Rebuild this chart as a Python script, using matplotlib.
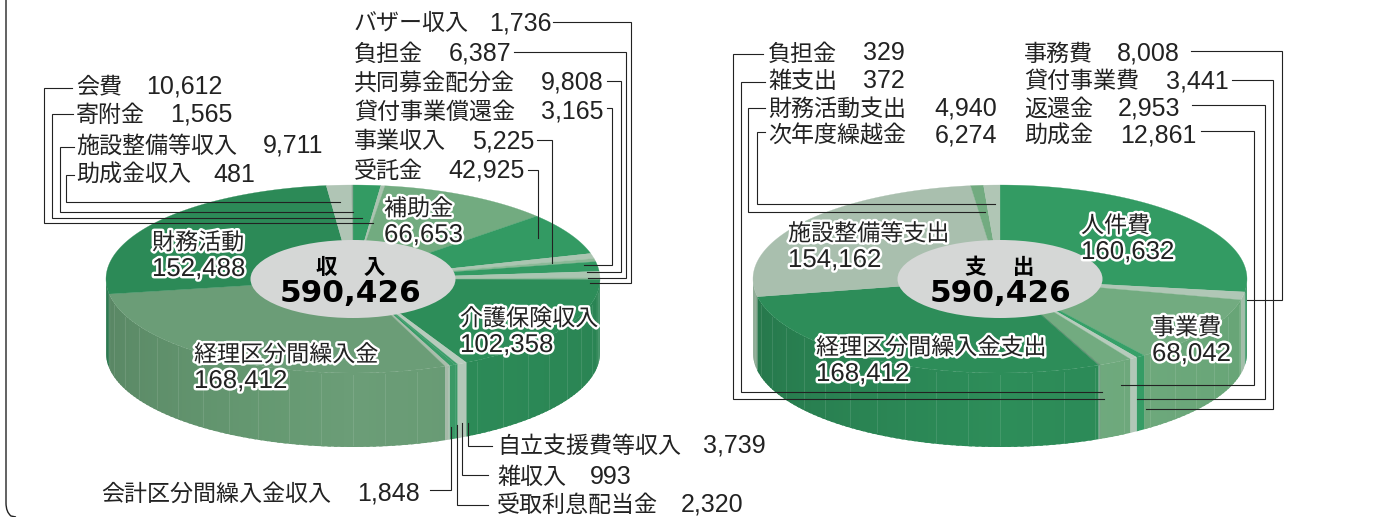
import colorsys

import matplotlib
matplotlib.use("Agg")
import matplotlib.colors as mcolors
import matplotlib.patheffects as pe
import matplotlib.pyplot as plt
from matplotlib.patches import Ellipse, PathPatch
from matplotlib.path import Path
import numpy as np

plt.rcParams["font.family"] = ["Noto Sans CJK JP", "DejaVu Sans"]

# income, clockwise from 12 o'clock
income_names = ["会費", "寄附金", "補助金", "受託金", "事業収入", "貸付事業償還金",
                "共同募金配分金", "負担金", "バザー収入", "介護保険収入",
                "自立支援費等収入", "雑収入", "受取利息配当金", "会計区分間繰入金収入",
                "経理区分間繰入金", "財務活動", "施設整備等収入", "助成金収入"]
income_values = [10612, 1565, 66653, 42925, 5225, 3165, 9808, 6387, 1736, 102358,
                 3739, 993, 2320, 1848, 168412, 152488, 9711, 481]
income_colors = ["#339b63", "#abc3b0", "#72ab80", "#339a63", "#abc5b1", "#8cb897",
                 "#339a63", "#abc5b1", "#8cb897", "#2d8d59",
                 "#b7cbbc", "#3a9c68", "#3a9c68", "#a9bdab",
                 "#6b9d77", "#2c8a57", "#b0c5b5", "#8aa895"]

# expenses, clockwise from 12 o'clock
spend_names = ["人件費", "事務費", "事業費", "貸付事業費", "返還金", "助成金",
               "雑支出", "負担金", "経理区分間繰入金支出", "施設整備等支出",
               "財務活動支出", "次年度繰越金"]
spend_values = [160632, 8008, 68042, 3441, 2953, 12861,
                372, 329, 168412, 154162, 4940, 6274]
spend_colors = ["#339b63", "#b0c7b6", "#72ab80", "#36a068", "#b7cbbc", "#72ab80",
                "#5f8f70", "#5f8f70", "#2d8d59", "#a9bfae", "#72ab80", "#b0c6b5"]

total = 590426

fig = plt.figure(figsize=(13.94, 5.17), dpi=100)
ax = fig.add_axes([0, 0, 1, 1])
ax.set_xlim(0, 1394)
ax.set_ylim(517, 0)
ax.axis("off")

CY, RX, RY, DEPTH = 279, 247, 94, 74


def shade(color, theta):
    # side wall gets darker towards the left, a bit towards the right
    if theta >= 180:
        f = 1 - 0.17 * (theta - 180) / 90
    else:
        f = 1 - 0.07 * (180 - theta) / 90
    r, g, b = mcolors.to_rgb(color)
    h, l, s = colorsys.rgb_to_hls(r, g, b)
    return colorsys.hls_to_rgb(h, l * f, s)


def rim(cx, theta):
    t = np.radians(theta)
    return cx + RX * np.sin(t), CY - RY * np.cos(t)


def draw_pie(cx, values, colors):
    edges = np.cumsum([0] + values) / sum(values) * 360
    # side wall first; strips overlap the next one so no seams show
    for c, a, b in zip(colors, edges[:-1], edges[1:]):
        lo, hi = max(a, 90), min(b, 270)
        if hi <= lo:
            continue
        cuts = np.append(np.arange(lo, hi, 1.5), hi)
        for t0, t1 in zip(cuts[:-1], cuts[1:]):
            th = np.linspace(t0, min(t1 + 0.8, hi), 5)
            x, y = rim(cx, th)
            ax.fill(np.r_[x, x[::-1]], np.r_[y, y[::-1] + DEPTH],
                    fc=shade(c, (t0 + t1) / 2), ec="none", zorder=1)
    # faint vertical ribs of the wall
    for th in np.arange(97.5, 270, 7.5):
        x, y = rim(cx, th)
        ax.plot([x, x], [y + 2, y + DEPTH - 2], color="white", alpha=0.11, lw=0.7, zorder=2)
    # top face
    for c, a, b in zip(colors, edges[:-1], edges[1:]):
        th = np.linspace(a, b, max(3, int(b - a) * 2))
        x, y = rim(cx, th)
        ax.fill(np.r_[cx, x], np.r_[CY, y], fc=c, ec=c, lw=0.2, zorder=3)
    ax.add_patch(Ellipse((cx, CY), 205, 78, fc="#d5d7d6", ec="none", zorder=4))


draw_pie(353, income_values, income_colors)
draw_pie(1000, spend_values, spend_colors)

leaders = [
    [(553, 22), (631, 22), (631, 283), (590, 283)],
    [(514, 52), (626, 52), (626, 278), (588, 278)],
    [(607, 81), (621, 81), (621, 272), (587, 272)],
    [(607, 108), (612, 108), (612, 265), (584, 265)],
    [(537, 140), (552, 140), (552, 263)],
    [(528, 170), (538, 170), (538, 238)],
    [(72, 88), (44, 88), (44, 223), (373, 223)],
    [(73, 114), (52, 114), (52, 218), (362, 218)],
    [(74, 147), (60, 147), (60, 212), (353, 212)],
    [(74, 175), (66, 175), (66, 202), (340, 202)],
    [(468, 423), (468, 446), (492, 446)],
    [(462, 423), (462, 475), (488, 475)],
    [(457, 425), (457, 505), (488, 505)],
    [(451, 427), (451, 490), (430, 490)],
    [(763, 54), (733, 54), (733, 399), (1104, 399)],
    [(765, 82), (741, 82), (741, 392), (1102, 392)],
    [(765, 108), (748, 108), (748, 212), (985, 212)],
    [(765, 132), (757, 132), (757, 204), (995, 204)],
    [(1191, 51), (1282, 51), (1282, 300), (1247, 300)],
    [(1232, 80), (1273, 80), (1273, 409), (1146, 409)],
    [(1192, 105), (1265, 105), (1265, 399), (1137, 399)],
    [(1201, 131), (1254, 131), (1254, 385), (1121, 385)],
]
for pts in leaders:
    xs, ys = zip(*pts)
    ax.plot(xs, ys, color="#222222", lw=0.8, solid_joinstyle="miter", zorder=5)

inc = dict(zip(income_names, income_values))
spd = dict(zip(spend_names, spend_values))


def outside(name, value, x, right, y):
    ax.text(x, y + 2, name, fontsize=16.6, color="#222222", ha="left", va="center", zorder=6)
    ax.text(right, y + 1.5, f"{value:,}", fontsize=18, family="Liberation Sans", color="#222222",
            ha="right", va="center", zorder=6)


for name, right, y in [("バザー収入", 552, 22), ("負担金", 511, 52), ("共同募金配分金", 604, 81),
                       ("貸付事業償還金", 604, 110), ("事業収入", 534, 140), ("受託金", 525, 169)]:
    outside(name, inc[name], 354, right, y)
for name, right, y in [("会費", 223, 85), ("寄附金", 232, 113),
                       ("施設整備等収入", 323, 144), ("助成金収入", 255, 173)]:
    outside(name, inc[name], 76, right, y)
# the last row is cut by the bottom edge in the reference, kept just inside here
for name, right, y in [("自立支援費等収入", 766, 444), ("雑収入", 632, 476), ("受取利息配当金", 743, 503)]:
    outside(name, inc[name], 497, right, y)
outside("会計区分間繰入金収入", inc["会計区分間繰入金収入"], 101, 420, 492)
for name, right, y in [("負担金", 905, 52), ("雑支出", 905, 80),
                       ("財務活動支出", 997, 107), ("次年度繰越金", 997, 134)]:
    outside(name, spd[name], 768, right, y)
for name, right, y in [("事務費", 1180, 52), ("貸付事業費", 1229, 80),
                       ("返還金", 1180, 107), ("助成金", 1197, 134)]:
    outside(name, spd[name], 1024, right, y)

halo = [pe.withStroke(linewidth=3.5, foreground="white")]


def inside(name, value, x, y):
    ax.text(x, y + 3, name, fontsize=16.6, color="#222222", ha="left", va="center",
            path_effects=halo, zorder=7)
    ax.text(x, y + 29, f"{value:,}", fontsize=18.6, family="Liberation Sans", color="#222222",
            ha="left", va="center", path_effects=halo, zorder=7)


inside("補助金", inc["補助金"], 384, 206)
inside("財務活動", inc["財務活動"], 152, 240)
inside("介護保険収入", inc["介護保険収入"], 460, 316)
inside("経理区分間繰入金", inc["経理区分間繰入金"], 194, 352)
inside("人件費", spd["人件費"], 1081, 223)
inside("施設整備等支出", spd["施設整備等支出"], 788, 231)
inside("経理区分間繰入金支出", spd["経理区分間繰入金支出"], 816, 345)
inside("事業費", spd["事業費"], 1152, 325)

for cx, title in [(351, "収　 入"), (1000, "支　 出")]:
    ax.text(cx, 267, title, fontsize=15.5, fontweight="bold", color="black",
            ha="center", va="center", zorder=7)
    ax.text(cx, 293, f"{total:,}", fontsize=22.4, fontweight="bold", family="DejaVu Sans",
            color="black", ha="center", va="center", zorder=7)

# rounded frame, open at the top and running off the bottom
frame = Path([(6, 0), (6, 503), (6, 512), (11, 516), (16, 517)],
             [Path.MOVETO, Path.LINETO, Path.CURVE3, Path.CURVE3, Path.LINETO])
ax.add_patch(PathPatch(frame, fc="none", ec="#222222", lw=1.0, zorder=5))

fig.savefig("out.png", dpi=100)
